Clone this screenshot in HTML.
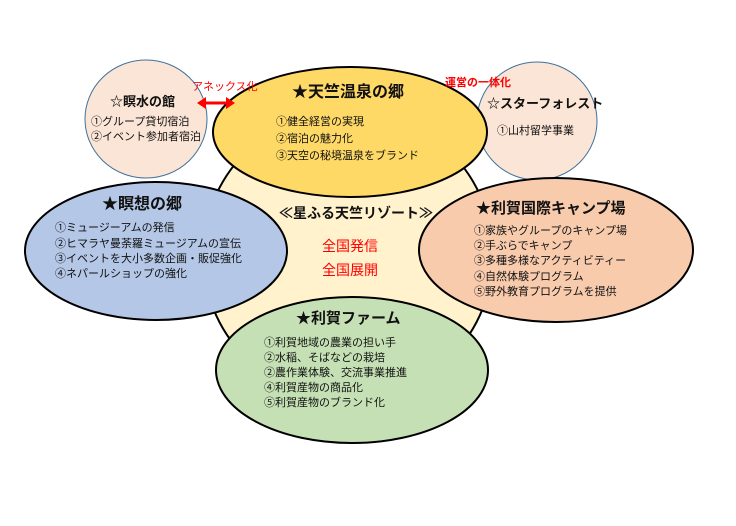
<!DOCTYPE html>
<html><head><meta charset="utf-8"><style>
body{margin:0;background:#fff}
svg text{font-family:"Liberation Sans","Noto Sans CJK JP",sans-serif;fill:#111}
.t{font-weight:bold}
.i{font-size:11px}
</style></head><body>
<svg width="736" height="521" viewBox="0 0 736 521" xmlns="http://www.w3.org/2000/svg">
<circle cx="348" cy="255" r="145" fill="#fff2cc" stroke="#000" stroke-width="2"/>
<ellipse cx="146" cy="119" rx="61" ry="59" fill="#fbe5d6" stroke="#41719c" stroke-width="1"/>
<ellipse cx="537" cy="121" rx="60" ry="59" fill="#fbe5d6" stroke="#41719c" stroke-width="1"/>
<ellipse cx="350" cy="132" rx="137" ry="65" fill="#ffd966" stroke="#000" stroke-width="2"/>
<ellipse cx="156" cy="251" rx="131" ry="69" fill="#b4c7e7" stroke="#000" stroke-width="2"/>
<ellipse cx="556" cy="250" rx="137" ry="72" fill="#f8cbad" stroke="#000" stroke-width="2"/>
<ellipse cx="352" cy="370" rx="136" ry="73" fill="#c5e0b4" stroke="#000" stroke-width="2"/>
<!-- arrow -->
<line x1="204" y1="103" x2="228" y2="103" stroke="#f00" stroke-width="3"/>
<polygon points="197,103 206,97 206,109" fill="#f00"/>
<polygon points="235,103 226,97 226,109" fill="#f00"/>
<text x="192" y="90" font-size="11" style="fill:#f00">アネックス化</text>
<text x="445" y="86" font-size="11" style="fill:#f00" class="t">運営の一体化</text>
<text x="292" y="97" font-size="16" class="t">★天竺温泉の郷</text>
<text x="276" y="125" class="i">①健全経営の実現</text>
<text x="276" y="142" class="i">②宿泊の魅力化</text>
<text x="276" y="159" class="i">③天空の秘境温泉をブランド</text>
<text x="110" y="106" font-size="13" class="t">☆瞑水の館</text>
<text x="91" y="125" class="i">①グループ貸切宿泊</text>
<text x="91" y="140" class="i">②イベント参加者宿泊</text>
<text x="487" y="108" font-size="13" class="t">☆スターフォレスト</text>
<text x="497" y="134" class="i">①山村留学事業</text>
<text x="102" y="209" font-size="16" class="t">★瞑想の郷</text>
<text x="55" y="231" class="i">①ミュージーアムの発信</text>
<text x="55" y="247" class="i">②ヒマラヤ曼荼羅ミュージアムの宣伝</text>
<text x="55" y="262" class="i">③イベントを大小多数企画・販促強化</text>
<text x="55" y="277" class="i">④ネパールショップの強化</text>
<text x="279" y="218" font-size="14" class="t">≪星ふる天竺リゾート≫</text>
<text x="322" y="251" font-size="14" style="fill:#f00">全国発信</text>
<text x="322" y="275" font-size="14" style="fill:#f00">全国展開</text>
<text x="476" y="213" font-size="15" class="t">★利賀国際キャンプ場</text>
<text x="474" y="234" class="i">①家族やグループのキャンプ場</text>
<text x="474" y="249" class="i">②手ぶらでキャンプ</text>
<text x="474" y="264" class="i">③多種多様なアクティビティー</text>
<text x="474" y="280" class="i">④自然体験プログラム</text>
<text x="474" y="295" class="i">⑤野外教育プログラムを提供</text>
<text x="296" y="323" font-size="15" class="t">★利賀ファーム</text>
<text x="264" y="346" class="i">①利賀地域の農業の担い手</text>
<text x="264" y="361" class="i">②水稲、そばなどの栽培</text>
<text x="264" y="376" class="i">②農作業体験、交流事業推進</text>
<text x="264" y="391" class="i">④利賀産物の商品化</text>
<text x="264" y="406" class="i">⑤利賀産物のブランド化</text>
</svg>
</body></html>
